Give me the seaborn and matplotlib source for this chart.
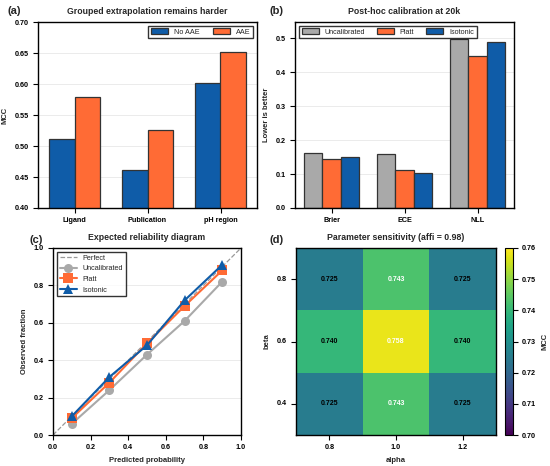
import numpy as np
import pandas as pd
import matplotlib
matplotlib.use("Agg")
import matplotlib.pyplot as plt
import seaborn as sns

# ---------------- data ----------------
groups_a = ["Ligand", "Publication", "pH region"]
no_aae = [0.512, 0.461, 0.602]
aae = [0.579, 0.526, 0.652]

metrics_b = ["Brier", "ECE", "NLL"]
uncal_b = [0.161, 0.160, 0.498]
platt_b = [0.145, 0.112, 0.447]
iso_b = [0.151, 0.104, 0.489]

pred_prob = [0.1, 0.3, 0.5, 0.7, 0.9]
obs_uncal = [0.06, 0.24, 0.43, 0.61, 0.82]
obs_platt = [0.09, 0.28, 0.49, 0.69, 0.88]
obs_iso = [0.10, 0.31, 0.48, 0.72, 0.91]

alpha_vals = ["0.8", "1.0", "1.2"]
beta_vals = ["0.8", "0.6", "0.4"]
mcc_grid = [[0.725, 0.743, 0.725],
            [0.740, 0.758, 0.740],
            [0.725, 0.743, 0.725]]

# ---------------- style ----------------
sns.set_theme(style="white")
plt.rcParams["font.family"] = ["Liberation Sans", "DejaVu Sans"]
plt.rcParams["font.weight"] = "bold"
plt.rcParams["axes.labelweight"] = "bold"
plt.rcParams["axes.titleweight"] = "bold"
plt.rcParams["axes.edgecolor"] = "black"
plt.rcParams["axes.linewidth"] = 1.0
plt.rcParams["xtick.color"] = "black"
plt.rcParams["ytick.color"] = "black"
plt.rcParams["xtick.bottom"] = True
plt.rcParams["ytick.left"] = True

BLUE = "#0F5CA8"
ORANGE = "#FF6B35"
GRAY = "#A9A9A9"

TITLE_FS = 6.3
LABEL_FS = 5.5
TICK_FS = 5.2
LEG_FS = 5.2

W, H = 550, 466
fig = plt.figure(figsize=(5.5, 4.66), dpi=100)

def px(l, t, r, b):
    return [l / W, 1 - b / H, (r - l) / W, (b - t) / H]

ax_a = fig.add_axes(px(38, 22, 257, 208))
ax_b = fig.add_axes(px(295, 22, 514, 208))
ax_c = fig.add_axes(px(53, 248, 241, 435))
ax_d = fig.add_axes(px(296, 248, 496, 435))
cax = fig.add_axes(px(505, 248, 513, 435))

def style_axes(ax):
    ax.tick_params(axis="both", labelsize=TICK_FS, length=3.3, width=0.8, pad=3.5)
    ax.yaxis.grid(True, color="#e8e8e8", linewidth=0.6)
    ax.set_axisbelow(True)
    for s in ax.spines.values():
        s.set_visible(True)
        s.set_color("black")
        s.set_linewidth(1.0)

# ---------------- (a) ----------------
df_a = pd.DataFrame({
    "group": groups_a * 2,
    "MCC": no_aae + aae,
    "setting": ["No AAE"] * 3 + ["AAE"] * 3,
})
sns.barplot(data=df_a, x="group", y="MCC", hue="setting", ax=ax_a,
            palette=[BLUE, ORANGE], width=0.7, edgecolor="#333333",
            linewidth=0.9, saturation=1)
ax_a.set_ylim(0.40, 0.70)
ax_a.set_yticks([0.40, 0.45, 0.50, 0.55, 0.60, 0.65, 0.70])
ax_a.set_xlabel("")
ax_a.set_ylabel("MCC", fontsize=LABEL_FS)
ax_a.set_title("Grouped extrapolation remains harder", fontsize=TITLE_FS, pad=6)
style_axes(ax_a)
ax_a.legend(ncol=2, loc="upper right", frameon=True,
            fancybox=False, edgecolor="black", prop={"size": LEG_FS, "weight": "normal"},
            handlelength=2.4, columnspacing=1.8, borderpad=0.4)

# ---------------- (b) ----------------
df_b = pd.DataFrame({
    "metric": metrics_b * 3,
    "value": uncal_b + platt_b + iso_b,
    "method": ["Uncalibrated"] * 3 + ["Platt"] * 3 + ["Isotonic"] * 3,
})
sns.barplot(data=df_b, x="metric", y="value", hue="method", ax=ax_b,
            palette=[GRAY, ORANGE, BLUE], width=0.75, edgecolor="#333333",
            linewidth=0.9, saturation=1)
ax_b.set_ylim(0, max(uncal_b) * 1.1)
ax_b.set_xlabel("")
ax_b.set_ylabel("Lower is better", fontsize=LABEL_FS)
ax_b.set_title("Post-hoc calibration at 20k", fontsize=TITLE_FS, pad=6)
style_axes(ax_b)
ax_b.legend(ncol=3, loc="upper left", frameon=True, fancybox=False,
            edgecolor="black", prop={"size": LEG_FS, "weight": "normal"},
            handlelength=2.4, columnspacing=1.6, borderpad=0.4)

# ---------------- (c) ----------------
ax_c.plot([0, 1], [0, 1], linestyle="--", color="#999999", linewidth=0.9,
          label="Perfect")
sns.lineplot(x=pred_prob, y=obs_uncal, ax=ax_c, color=GRAY, marker="o",
             markersize=6.5, linewidth=1.5, markeredgewidth=0, label="Uncalibrated")
sns.lineplot(x=pred_prob, y=obs_platt, ax=ax_c, color=ORANGE, marker="s",
             markersize=6.5, linewidth=1.5, markeredgewidth=0, label="Platt")
sns.lineplot(x=pred_prob, y=obs_iso, ax=ax_c, color=BLUE, marker="^",
             markersize=7, linewidth=1.5, markeredgewidth=0, label="Isotonic")
ax_c.set_xlim(0, 1)
ax_c.set_ylim(0, 1)
ax_c.set_xlabel("Predicted probability", fontsize=LABEL_FS)
ax_c.set_ylabel("Observed fraction", fontsize=LABEL_FS)
ax_c.set_title("Expected reliability diagram", fontsize=TITLE_FS, pad=6)
style_axes(ax_c)
ax_c.legend(loc="upper left", frameon=True, fancybox=False, edgecolor="black",
            prop={"size": LEG_FS, "weight": "normal"}, handlelength=2.4,
            borderpad=0.4)

# ---------------- (d) ----------------
df_d = pd.DataFrame(mcc_grid, index=beta_vals, columns=alpha_vals)
sns.heatmap(df_d, ax=ax_d, cbar_ax=cax, cmap="viridis", vmin=0.70, vmax=0.76,
            annot=True, fmt=".3f", annot_kws={"size": 5, "weight": "bold"},
            cbar_kws={"label": "MCC"})
for t in ax_d.texts:
    v = float(t.get_text())
    t.set_color("white" if v > 0.741 else "black")
ax_d.set_xlabel("alpha", fontsize=LABEL_FS)
ax_d.set_ylabel("beta", fontsize=LABEL_FS)
ax_d.set_title("Parameter sensitivity (affi = 0.98)", fontsize=TITLE_FS, pad=6)
ax_d.tick_params(axis="both", labelsize=TICK_FS, length=3.3, width=0.8, pad=3.5,
                 bottom=True, left=True)
ax_d.set_yticklabels(ax_d.get_yticklabels(), rotation=0)
for s in ax_d.spines.values():
    s.set_visible(True)
    s.set_color("black")
    s.set_linewidth(1.0)
cbar = ax_d.collections[0].colorbar
cbar.set_ticks([0.70, 0.71, 0.72, 0.73, 0.74, 0.75, 0.76])
cbar.outline.set_visible(True)
cbar.outline.set_edgecolor("black")
cbar.outline.set_linewidth(0.8)
cax.tick_params(labelsize=TICK_FS, length=3.3, width=0.8, pad=3, right=True)
cax.set_ylabel("MCC", fontsize=LABEL_FS, weight="bold")

# ---------------- panel labels ----------------
fig.text(7 / W, 1 - 14 / H, "(a)", fontsize=8, weight="bold")
fig.text(270 / W, 1 - 14 / H, "(b)", fontsize=8, weight="bold")
fig.text(30 / W, 1 - 243 / H, "(c)", fontsize=8, weight="bold")
fig.text(270 / W, 1 - 243 / H, "(d)", fontsize=8, weight="bold")

fig.savefig("out.png", dpi=100)
